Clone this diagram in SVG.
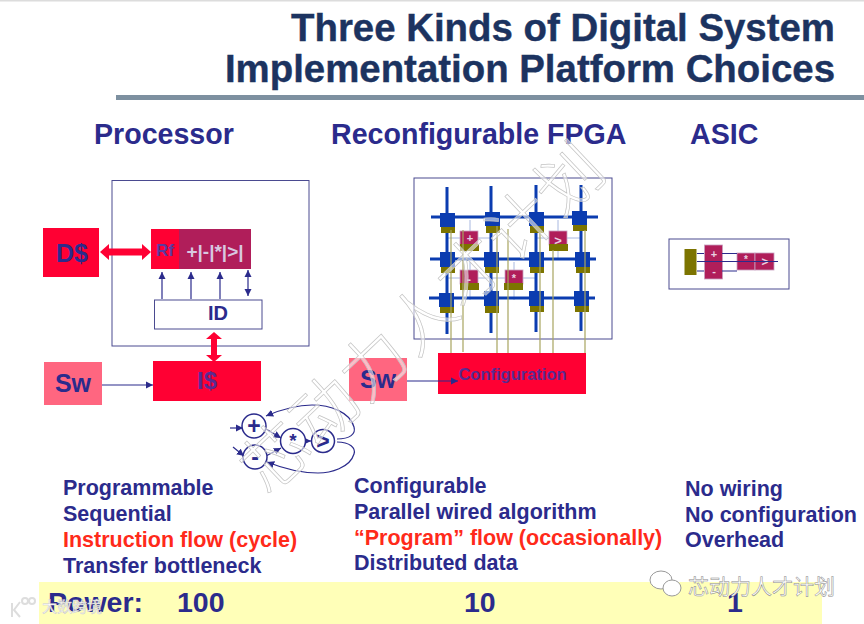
<svg xmlns="http://www.w3.org/2000/svg" width="864" height="624" viewBox="0 0 864 624">
<style>
text{font-family:"Liberation Sans",Arial,sans-serif;font-weight:700;fill:#2b2b8c}
.t{font-size:38.400px;fill:#1c3360;stroke:#1c3360;stroke-width:.4}
.h{font-size:28.600px}
.b{font-size:21.500px}
.p{font-size:28.500px}
.r{fill:#ff2a1a}
.box{fill:#fff;stroke:#4a4a90;stroke-width:1}
.red{fill:#ff0033}
.pink{fill:#ff6680}
.mag{fill:#b01e5a;stroke:#c9a0c0;stroke-width:.8}
.ol{fill:#7c7400}
.bl{fill:#0b3cb0}
.w{stroke:#0b3cb0;stroke-width:3;fill:none}
.thin{stroke:#a8b8e0;stroke-width:1;fill:none}
.cfg{stroke:#a8a560;stroke-width:1.2;fill:none}
.ln{stroke:#2b2b8c;stroke-width:1.2;fill:none}
.cr{fill:#fff;stroke:#2b2b8c;stroke-width:1.500}
.wm{font-family:"Noto Sans CJK SC",sans-serif;font-weight:300;fill:#fff;fill-opacity:.55;stroke:#c4c4c4;stroke-width:.7}
.wm2{font-family:"Noto Sans CJK SC",sans-serif;font-weight:400;fill:#fff;stroke:#888;stroke-width:.5;font-size:21px}
</style>
<defs>
<marker id="a" markerWidth="7" markerHeight="7" refX="6" refY="3" orient="auto-start-reverse"><path d="M0 0L6 3L0 6z" fill="#2b2b8c"/></marker>
</defs>
<rect width="864" height="624" fill="#fff"/>
<rect width="864" height="1.500" fill="#dcdcdc"/>

<g id="title">
<text class="t" x="835" y="41" text-anchor="end">Three Kinds of Digital System</text>
<text class="t" x="835" y="82" text-anchor="end">Implementation Platform Choices</text>
<rect x="116" y="95" width="748" height="5" fill="#7d90a0"/>
</g>
<g id="headings">
<text class="h" x="94" y="144">Processor</text>
<text class="h" x="331" y="144">Reconfigurable FPGA</text>
<text class="h" x="690" y="144">ASIC</text>
</g>

<g id="processor">
<rect class="box" x="112" y="180.500" width="197" height="165.500"/>
<rect class="red" x="43" y="228" width="56" height="49"/>
<text x="72" y="262" text-anchor="middle" font-size="25">D$</text>
<rect class="red" x="151" y="229" width="28" height="40"/>
<text x="165" y="256" text-anchor="middle" font-size="17" style="fill:#5a3aa0">Rf</text>
<rect x="179" y="229" width="72" height="40" fill="#b01e5a"/>
<text x="215" y="258" text-anchor="middle" font-size="19" style="fill:#d8c8e0">+|-|*|&gt;|</text>
<rect class="box" x="154.500" y="300" width="107.500" height="29"/>
<text x="218" y="320" text-anchor="middle" font-size="20">ID</text>
<rect class="red" x="153" y="361" width="108" height="40"/>
<text x="207" y="389" text-anchor="middle" font-size="24" style="fill:#5a2a90">I$</text>
<rect class="pink" x="44" y="362" width="58" height="43"/>
<text x="73" y="392" text-anchor="middle" font-size="25">Sw</text>
</g>

<g id="fpga">
<rect class="box" x="414" y="178" width="198" height="161"/>
<g class="thin">
<path d="M447 238H490M537 238H580M447 278H537M470 220V250M558 220V260M470 262V300M514 262V300"/>
</g>
<g class="w">
<path d="M447 187V334M491 186V333M536 185V332M581 185V331"/>
<path d="M431 217H598M430 259H596M429 298H595"/>
</g>
<g id="fpga-switches">
<g class="ol">
<rect x="441" y="226" width="14" height="7"/><rect x="486" y="226" width="14" height="7"/><rect x="530" y="226" width="14" height="7"/><rect x="573" y="224" width="14" height="7"/>
<rect x="441" y="266" width="14" height="7"/><rect x="485" y="266" width="14" height="7"/><rect x="530" y="266" width="14" height="7"/><rect x="576" y="266" width="14" height="7"/>
<rect x="440" y="306" width="14" height="7"/><rect x="485" y="306" width="14" height="7"/><rect x="530" y="305" width="14" height="7"/><rect x="575" y="305" width="14" height="7"/>
</g>
<g class="bl">
<rect x="440" y="213" width="15" height="14"/><rect x="485" y="212" width="15" height="14"/><rect x="529" y="212" width="15" height="14"/><rect x="572" y="211" width="15" height="14"/>
<rect x="440" y="252" width="15" height="15"/><rect x="484" y="252" width="15" height="15"/><rect x="529" y="252" width="15" height="15"/><rect x="575" y="252" width="15" height="15"/>
<rect x="439" y="293" width="15" height="14"/><rect x="484" y="291" width="15" height="15"/><rect x="529" y="291" width="15" height="15"/><rect x="574" y="291" width="15" height="15"/>
</g>
</g>
<g id="fpga-ops">
<rect class="mag" x="460" y="231" width="18" height="14"/><rect class="ol" x="460" y="244" width="19" height="7"/>
<text x="470" y="242" text-anchor="middle" font-size="11" style="fill:#e8d0e0">+</text>
<rect class="mag" x="549" y="231" width="18" height="14"/><rect class="ol" x="549" y="244" width="19" height="7"/>
<text x="558" y="245" text-anchor="middle" font-size="13" style="fill:#e8d0e0">&gt;</text>
<rect class="mag" x="460" y="270" width="18" height="14"/><rect class="ol" x="460" y="283" width="19" height="7"/>
<text x="469" y="284" text-anchor="middle" font-size="12" style="fill:#e8d0e0">-</text>
<rect class="mag" x="505" y="270" width="18" height="14"/><rect class="ol" x="504" y="283" width="19" height="7"/>
<text x="514" y="282" text-anchor="middle" font-size="11" style="fill:#e8d0e0">*</text>
</g>
<g class="cfg">
<path d="M451 230V353M463 230V352M497 226V353M508 229V353M540 232V353M553 250V353M585 230V353"/>
</g>
<rect class="red" x="438" y="353" width="148" height="41"/>
<text x="512.500" y="380" text-anchor="middle" font-size="16.500" style="fill:#5a2a90">Configuration</text>
<rect class="pink" x="349" y="358" width="58" height="43"/>
<text x="378" y="388" text-anchor="middle" font-size="25">Sw</text>
</g>

<g id="asic">
<rect class="box" x="669" y="239" width="120" height="50"/>
<rect x="684.500" y="249" width="12" height="26" fill="#7c7400"/>
<rect class="mag" x="704.500" y="245" width="18" height="34"/>
<text x="714" y="258" text-anchor="middle" font-size="11" style="fill:#e8d0e0">+</text>
<text x="714" y="275" text-anchor="middle" font-size="11" style="fill:#e8d0e0">-</text>
<rect class="mag" x="737" y="253" width="18" height="17"/>
<rect class="mag" x="755" y="253" width="19" height="17"/>
<text x="746" y="263" text-anchor="middle" font-size="10" style="fill:#e8d0e0">*</text>
<text x="765" y="266" text-anchor="middle" font-size="12" style="fill:#e8d0e0">&gt;</text>
<path class="ln" d="M697 253.500H704M722 253.500H737M697 271H704M722 271H737M697 261.500H778"/>
</g>

<g id="connectors">
<path d="M100 252L109 244V248.500H142V244L151 252L142 260V255.500H109V260Z" fill="#ff0033"/>
<path d="M214 332L222 339H217V355H222L214 362L206 355H211V339H206Z" fill="#ff0033"/>
<g class="ln">
<path d="M162 299V272" marker-end="url(#a)"/>
<path d="M191 299V272" marker-end="url(#a)"/>
<path d="M220 299V272" marker-end="url(#a)"/>
<path d="M248 270V296" marker-start="url(#a)" marker-end="url(#a)"/>
<path d="M102 385H153" marker-end="url(#a)"/>
<path d="M407 381H458" marker-end="url(#a)"/>
<path d="M230 428H243" marker-end="url(#a)"/>
<path d="M233 447L244 456" marker-end="url(#a)"/>
<path d="M266 429L281 438" marker-end="url(#a)"/>
<path d="M266 456L281 448" marker-end="url(#a)"/>
<path d="M305 441H311" marker-end="url(#a)"/>
<path d="M337 439C350 439 356 434 354 427C350 412 330 405 312 405C295 405 280 410 266 416" marker-end="url(#a)"/>
<path d="M337 442C350 442 356 448 354 454C350 468 330 473 318 473C300 473 282 468 267 462" marker-end="url(#a)"/>
</g>
</g>

<g id="dataflow">
<circle class="cr" id="op-plus" cx="254" cy="426" r="12"/>
<circle class="cr" id="op-minus" cx="255" cy="457" r="12"/>
<circle class="cr" id="op-mul" cx="293" cy="441" r="12.500"/>
<circle class="cr" id="op-gt" cx="323" cy="441" r="11.500"/>
<text x="254" y="434" text-anchor="middle" font-size="23">+</text>
<text x="255" y="465" text-anchor="middle" font-size="23">-</text>
<text x="293" y="447" text-anchor="middle" font-size="19">*</text>
<text x="323" y="449" text-anchor="middle" font-size="23">&gt;</text>
</g>

<g id="lists">
<text class="b" x="63" y="495">Programmable</text>
<text class="b" x="63" y="521">Sequential</text>
<text class="b r" x="63" y="547">Instruction flow (cycle)</text>
<text class="b" x="63" y="573">Transfer bottleneck</text>
<text class="b" x="354" y="493">Configurable</text>
<text class="b" x="354" y="519">Parallel wired algorithm</text>
<text class="b r" x="354" y="545">“Program” flow (occasionally)</text>
<text class="b" x="354" y="570">Distributed data</text>
<text class="b" x="685" y="496">No wiring</text>
<text class="b" x="685" y="522">No configuration</text>
<text class="b" x="685" y="547">Overhead</text>
</g>

<g id="power">
<rect x="39" y="582" width="783" height="42" fill="#ffffb8"/>
<text class="p" x="48" y="612">Power:</text>
<text class="p" x="177" y="612">100</text>
<text class="p" x="464" y="612">10</text>
<text class="p" x="727" y="612">1</text>
</g>

<g id="watermark">
<text class="wm" font-size="66" transform="translate(268 497) rotate(-43.500)" textLength="470">芯动力人才计划</text>
<text class="wm2" x="688" y="594">芯动力人才计划</text>
<g fill="#fff" stroke="#999" stroke-width="1"><ellipse cx="661" cy="580" rx="11" ry="9"/><ellipse cx="672" cy="588" rx="9" ry="8"/></g>
<text class="wm2" x="42" y="612" style="font-size:15px;stroke:#ccc">大数跨境</text>
<g fill="none" stroke="#ddd" stroke-width="2"><path d="M12 603V617M20 602L14 610L20 617"/><circle cx="25" cy="601" r="3"/><circle cx="32" cy="601" r="3"/></g>
</g>
</svg>
